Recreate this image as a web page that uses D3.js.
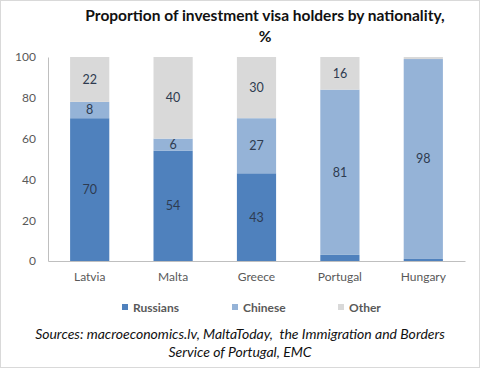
<!DOCTYPE html>
<html>
<head>
<meta charset="utf-8">
<script src="https://d3js.org/d3.v7.min.js"></script>
<style>
  body { margin: 0; background: #fff; }
  text { font-family: Lato, "Open Sans", sans-serif; }
</style>
</head>
<body>
<div id="chart"></div>
<script>

// data
var countries = ["Latvia", "Malta", "Greece", "Portugal", "Hungary"];
var russians = [70, 54, 43, 3, 1];
var chinese = [8, 6, 27, 81, 98];
var other = [22, 40, 30, 16, 1];
var seriesNames = ["Russians", "Chinese", "Other"];
var yTicks = [0, 20, 40, 60, 80, 100];

var colors = ["#4f81bd", "#95b3d7", "#d9d9d9"];

var W = 480, H = 368;
var margin = {top: 57, right: 15, bottom: 107, left: 48};
var width = W - margin.left - margin.right,
    height = H - margin.top - margin.bottom;

var svg = d3.select("#chart").append("svg")
    .attr("width", W)
    .attr("height", H);

// outer border
svg.append("rect")
    .attr("x", 0.5).attr("y", 0.5)
    .attr("width", W - 1).attr("height", H - 1)
    .attr("fill", "#fff")
    .attr("stroke", "#d9d9d9");

// title
svg.append("text")
    .attr("x", 265).attr("y", 21)
    .attr("text-anchor", "middle")
    .style("font-size", "15.5px").style("font-weight", "bold")
    .attr("fill", "#111")
    .text("Proportion of investment visa holders by nationality,");
svg.append("text")
    .attr("x", 265).attr("y", 42)
    .attr("text-anchor", "middle")
    .style("font-size", "15.5px").style("font-weight", "bold")
    .attr("fill", "#111")
    .text("%");

var g = svg.append("g")
    .attr("transform", "translate(" + margin.left + "," + margin.top + ")");

var table = countries.map(function(c, i) {
  return {country: c, Russians: russians[i], Chinese: chinese[i], Other: other[i]};
});
var stacked = d3.stack().keys(seriesNames)(table);

var x = d3.scaleBand()
    .domain(countries)
    .range([0, width])
    .paddingInner(0.53)
    .paddingOuter(0.265);

var y = d3.scaleLinear()
    .domain([0, 100])
    .range([height, 0]);

// y axis
var yAxis = g.append("g")
    .call(d3.axisLeft(y).tickValues(yTicks).tickSize(0).tickPadding(12));
yAxis.select(".domain").attr("stroke", "#bfbfbf");
yAxis.selectAll("text")
    .style("font-size", "12px")
    .attr("fill", "#595959");

// x axis
var xAxis = g.append("g")
    .attr("transform", "translate(0," + height + ")")
    .call(d3.axisBottom(x).tickSize(0).tickPadding(11));
xAxis.select(".domain").attr("stroke", "#bfbfbf");
xAxis.selectAll("text")
    .style("font-size", "12px")
    .attr("fill", "#595959");

// bars
var layers = g.selectAll(".layer")
    .data(stacked)
  .enter().append("g")
    .attr("class", "layer")
    .attr("fill", function(d, i) { return colors[i]; });

layers.selectAll("rect")
    .data(function(d) { return d; })
  .enter().append("rect")
    .attr("x", function(d) { return x(d.data.country); })
    .attr("y", function(d) { return y(d[1]); })
    .attr("height", function(d) { return y(d[0]) - y(d[1]); })
    .attr("width", x.bandwidth());

// value labels
layers.selectAll(".lbl")
    .data(function(d) { return d; })
  .enter().filter(function(d) { return d[1] - d[0] >= 5; })
  .append("text")
    .attr("class", "lbl")
    .attr("x", function(d) { return x(d.data.country) + x.bandwidth() / 2; })
    .attr("y", function(d) { return y((d[0] + d[1]) / 2); })
    .attr("dy", "0.35em")
    .attr("text-anchor", "middle")
    .style("font-size", "12.5px")
    .attr("fill", "#2e3b50")
    .text(function(d) { return d[1] - d[0]; });

// legend
var legendX = [122, 232, 338];
var legend = svg.selectAll(".legend")
    .data(seriesNames)
  .enter().append("g")
    .attr("class", "legend")
    .attr("transform", function(d, i) { return "translate(" + legendX[i] + ",308)"; });
legend.append("rect")
    .attr("x", 0).attr("y", -4)
    .attr("width", 6).attr("height", 6)
    .attr("fill", function(d, i) { return colors[i]; });
legend.append("text")
    .attr("x", 11).attr("y", 0)
    .attr("dy", "0.35em")
    .style("font-size", "12px").style("font-weight", "bold")
    .attr("fill", "#595959")
    .text(function(d) { return d; });

// sources
var sources = ["Sources: macroeconomics.lv, MaltaToday,  the Immigration and Borders",
               "Service of Portugal, EMC"];
svg.selectAll(".src")
    .data(sources)
  .enter().append("text")
    .attr("class", "src")
    .attr("x", 240)
    .attr("y", function(d, i) { return 339 + i * 18; })
    .attr("text-anchor", "middle")
    .style("font-size", "14px").style("font-style", "italic")
    .style("white-space", "pre")
    .attr("fill", "#111")
    .text(function(d) { return d; });

</script>
</body>
</html>
